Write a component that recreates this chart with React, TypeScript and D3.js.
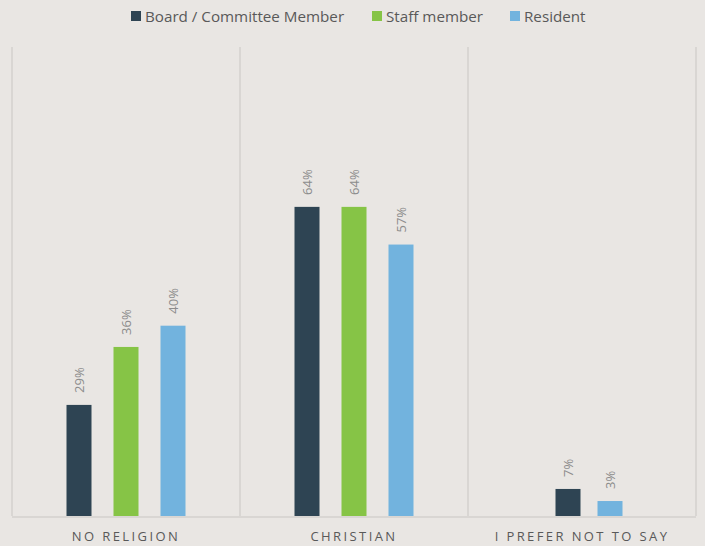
import React, { useEffect, useRef } from "react";
import * as d3 from "d3";

// categories and series (bar heights, labels as printed)
const categories = ["NO RELIGION", "CHRISTIAN", "I PREFER NOT TO SAY"];
const seriesNames = ["Board / Committee Member", "Staff member", "Resident"];
const boardValues = [23, 64, 5.6];
const staffValues = [35, 64, null];
const residentValues = [39.4, 56.2, 3.1];
const boardLabels = ["29%", "64%", "7%"];
const staffLabels = ["36%", "64%", ""];
const residentLabels = ["40%", "57%", "3%"];
const colors = ["#2E4453", "#86C446", "#72B3DE"];

const W = 705;
const H = 546;

export default function App() {
  const svgRef = useRef<SVGSVGElement>(null);

  useEffect(() => {
    document.body.style.margin = "0";
    const svg = d3.select(svgRef.current);
    svg.selectAll("*").remove();

    const font = "'Open Sans', sans-serif";
    const left = 12, right = 696, top = 47, bottom = 516;

    svg.append("rect").attr("width", W).attr("height", H).attr("fill", "#E9E6E3");

    const x0 = d3.scaleBand<string>().domain(categories).range([left, right]);
    const y = d3.scaleLinear().domain([0, 97.1]).range([bottom, top]);

    const allValues = [boardValues, staffValues, residentValues];
    const allLabels = [boardLabels, staffLabels, residentLabels];

    // vertical separators
    const seps = [left, ...categories.map((c) => (x0(c) as number) + x0.bandwidth())];
    svg.selectAll("line.sep")
      .data(seps)
      .enter()
      .append("line")
      .attr("x1", (d) => d).attr("x2", (d) => d)
      .attr("y1", top).attr("y2", bottom)
      .attr("stroke", "#D9D6D3")
      .attr("stroke-width", 2);

    // baseline
    svg.append("line")
      .attr("x1", left).attr("x2", right)
      .attr("y1", bottom + 1).attr("y2", bottom + 1)
      .attr("stroke", "#D9D6D3")
      .attr("stroke-width", 2);

    const step = 47, barW = 25;

    categories.forEach((cat, ci) => {
      const present = seriesNames
        .map((s, si) => ({ s, si, v: allValues[si][ci], label: allLabels[si][ci] }))
        .filter((d) => d.v !== null);
      // categories with a missing series: remaining bars sit a bit tighter, right of centre
      const gap = present.length < 3 ? 42 : step;
      const cx = (x0(cat) as number) + x0.bandwidth() / 2 + (present.length < 3 ? 7 : 0);
      const x1 = d3.scalePoint<number>()
        .domain(present.map((d) => d.si))
        .range([cx - (gap * (present.length - 1)) / 2, cx + (gap * (present.length - 1)) / 2]);

      const g = svg.append("g");
      g.selectAll("rect")
        .data(present)
        .enter()
        .append("rect")
        .attr("x", (d) => (x1(d.si) as number) - barW / 2)
        .attr("width", barW)
        .attr("y", (d) => y(d.v as number))
        .attr("height", (d) => bottom - y(d.v as number))
        .attr("fill", (d) => colors[d.si]);

      g.selectAll("text")
        .data(present)
        .enter()
        .append("text")
        .attr("transform", (d) => `translate(${(x1(d.si) as number) + 5},${y(d.v as number) - 12}) rotate(-90)`)
        .attr("font-family", font)
        .attr("font-size", 13)
        .attr("fill", "#8C8C8C")
        .text((d) => d.label);
    });

    // category labels
    svg.selectAll("text.cat")
      .data(categories)
      .enter()
      .append("text")
      .attr("x", (d) => (x0(d) as number) + x0.bandwidth() / 2)
      .attr("y", 541)
      .attr("text-anchor", "middle")
      .attr("font-family", font)
      .attr("font-size", 13)
      .attr("letter-spacing", 2.4)
      .attr("fill", "#595959")
      .text((d) => d);

    // legend
    const legendX = [131, 372, 510];
    const lg = svg.append("g");
    seriesNames.forEach((name, i) => {
      lg.append("rect")
        .attr("x", legendX[i]).attr("y", 11)
        .attr("width", 10).attr("height", 10)
        .attr("fill", colors[i]);
      lg.append("text")
        .attr("x", legendX[i] + 14).attr("y", 21.5)
        .attr("font-family", font)
        .attr("font-size", 15.2)
        .attr("fill", "#595959")
        .text(name);
    });
  }, []);

  return (
    <div>
      <svg ref={svgRef} width={W} height={H}></svg>
    </div>
  );
}
